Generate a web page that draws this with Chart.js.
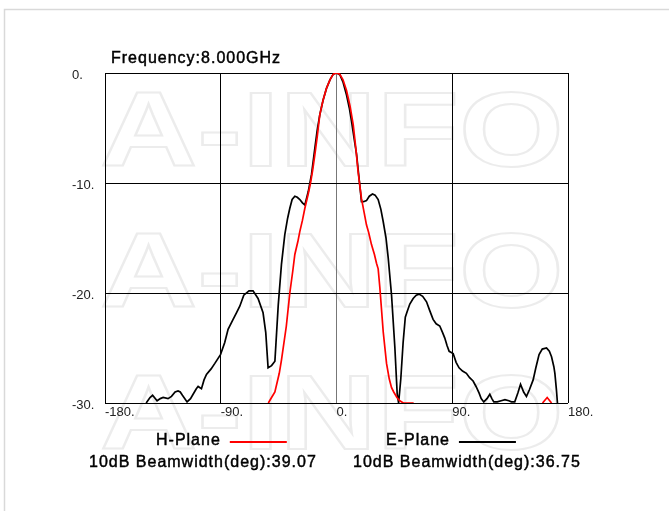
<!DOCTYPE html>
<html lang="en">
<head>
<meta charset="UTF-8">
<title>Frequency 8.000GHz</title>
<script src="https://cdn.jsdelivr.net/npm/chart.js"></script>
<style>
  html, body { margin: 0; padding: 0; background: #fff; }
  #box { width: 669px; height: 511px; position: relative; }
</style>
</head>
<body>
<div id="box"><canvas id="myChart"></canvas></div>

<script>
// titles and legend texts
const titleText = 'Frequency:8.000GHz';
const seriesNames = ['H-Plane', 'E-Plane'];
const beamwidths = ['10dB Beamwidth(deg):39.07', '10dB Beamwidth(deg):36.75'];

// axis ticks
const xTicks = [-180, -90, 0, 90, 180];
const yTicks = [0, -10, -20, -30];

// H-plane (red), null = not drawn
const hAngles = [-53, -50.5, -47.9, -44.5, -42.8, -39, -36.3, -34, -32.4, -30, -28.5, -26.5,
  -24.6, -22, -20.2, -18.5, -16.8, -15, -13, -10.5, -7.8, -5, -2.5, 0, 2.5, 5, 7.8, 10.5,
  13, 15, 16.8, 19.4, 21.5, 23.3, 25, 27.2, 29.5, 31.1, 32.4, 33.7, 35, 36.3, 38.9, 41,
  42.8, 44.5, 47, 49.2, 52, 56, 60, 110, 160.2, 163.8, 167.2];
const hGain = [-30, -29.5, -29.0, -27.3, -26.1, -23.0, -20.0, -18.0, -16.5, -15.3, -14.4, -13.4,
  -12.3, -11.0, -10.0, -8.8, -7.4, -5.8, -3.8, -2.5, -1.4, -0.6, -0.1, 0, -0.1, -0.6, -1.6, -3.0,
  -4.7, -6.8, -9.0, -11.4, -12.7, -13.8, -14.5, -15.6, -16.5, -17.3, -17.8, -19.5, -21.5, -23.5, -26.4, -27.8,
  -28.6, -29.0, -29.5, -29.8, -30, -30, -30, null, -30, -29.5, -30];

// E-plane (black)
const eAngles = [-148, -145, -143, -139.5, -137, -134.8, -131, -128.3, -125.5, -123.2, -121.5, -119.8,
  -116.2, -113.5, -111.5, -109, -107.6, -105, -103, -101.1, -97.5, -94.6, -90.2, -86.9, -84.3, -80.4,
  -77.8, -75.2, -72.1, -68, -64.9, -61, -57.1, -55, -53.2, -50.5, -47.9, -45.3, -42.8, -40.2, -38,
  -36.3, -34.5, -32.4, -30.5, -28.5, -26.5, -24.6, -22, -19.4, -16.8, -15, -13, -10.5, -7.8, -5, -2.5,
  0, 2.6, 5, 7.8, 10, 11.7, 13.5, 15.6, 18.1, 19.4, 21, 23.3, 25.5, 28, 30, 32.4, 34.5, 36.3, 38.5,
  40.2, 42.8, 45.4, 47.2, 48.3, 50, 51.8, 53.5, 54.9, 57, 59.6, 62, 64.2, 67, 70, 72.5, 75.1, 77.5,
  80.3, 82.5, 84.2, 86, 87.6, 90.7, 93, 95.3, 98, 101, 103.5, 106.2, 108.5, 110.9, 112.5, 114.5, 117,
  119.2, 120.8, 122.3, 125, 128, 131, 134, 136, 138.6, 141, 143.1, 145.5, 147.7, 150, 152.9, 155,
  157.5, 160, 163.3, 165.5, 167.2, 169, 169.8, 171, 171.8];
const eGain = [-30, -29.5, -29.3, -29.8, -29.6, -29.5, -29.6, -29.4, -29.0, -28.9, -29.0, -29.3,
  -29.9, -29.6, -29.2, -28.7, -28.5, -28.7, -27.9, -27.4, -26.9, -26.4, -25.6, -24.5, -23.3, -22.4,
  -21.8, -21.2, -20.2, -19.8, -19.8, -20.5, -21.8, -23.6, -26.8, -26.6, -26.2, -21.1, -17.4, -14.7, -13.2,
  -12.3, -11.5, -11.2, -11.3, -11.5, -11.8, -12.0, -10.8, -9.2, -6.8, -5.2, -3.8, -2.5, -1.4, -0.6, -0.1,
  0, -0.15, -0.8, -2.0, -3.2, -4.4, -5.8, -7.4, -10.2, -11.7, -11.7, -11.6, -11.2, -11.0, -11.1, -11.5, -12.4, -13.5, -15.0,
  -16.8, -20.2, -25.0, -29.2, -30, -27.8, -24.5, -22.2, -21.7, -21.0, -20.5, -20.2, -20.1, -20.3, -20.8, -21.6, -22.4, -22.8,
  -23.0, -23.6, -24.1, -24.8, -25.3, -25.5, -26.3, -26.8, -27.1, -27.3, -27.7, -28.0, -28.5, -29.1, -29.6, -29.9, -29.6,
  -29.2, -29.6, -29.9, -29.9, -29.8, -29.7, -29.8, -29.9, -29.9, -29.1, -28.3, -29.0, -29.4, -28.8, -27.9, -26.8,
  -25.6, -25.1, -25.0, -25.3, -25.8, -26.7, -27.3, -28.8, -30];

const lineColors = ['#ff0000', '#000000'];

function toPoints(xs, ys) {
  return xs.map((x, i) => ({ x: x, y: ys[i] }));
}

// text drawn a little heavier, like the original
function heavyText(c, txt, x, y) {
  c.fillText(txt, x, y);
  c.strokeText(txt, x, y);
}

// watermark, outer frame, title and legend rows
const decorations = {
  id: 'decorations',
  beforeDraw(chart) {
    const c = chart.ctx;
    c.save();
    c.fillStyle = '#fff';
    c.fillRect(0, 0, chart.width, chart.height);
    c.strokeStyle = '#d9d9d9';
    c.lineWidth = 1.5;
    c.beginPath();
    c.moveTo(4.5, chart.height);
    c.lineTo(4.5, 9.5);
    c.lineTo(chart.width, 9.5);
    c.stroke();

    // stretched outline watermark
    c.font = 'bold 106px "Liberation Sans", Arial, sans-serif';
    c.textBaseline = 'alphabetic';
    c.textAlign = 'left';
    c.strokeStyle = '#ececec';
    c.lineWidth = 2;
    [166, 307, 449].forEach(y => {
      c.save();
      c.translate(100, y);
      c.scale(1.27, 1);
      c.strokeText('A-INFO', 0, 0);
      c.restore();
    });
    c.restore();
  },
  afterDraw(chart) {
    const c = chart.ctx;
    const ds = chart.data.datasets;
    c.save();
    c.fillStyle = '#000';
    c.strokeStyle = '#000';
    c.lineWidth = 0.45;
    c.font = '16px "Liberation Sans", Arial, sans-serif';
    c.letterSpacing = '1px';
    c.textBaseline = 'middle';
    c.textAlign = 'left';
    heavyText(c, titleText, 111, 59);

    const legendX = [156, 386];
    const beamX = [89, 353];
    ds.forEach((d, i) => {
      c.fillStyle = '#000';
      c.strokeStyle = '#000';
      c.lineWidth = 0.45;
      heavyText(c, d.label, legendX[i], 441);
      heavyText(c, beamwidths[i], beamX[i], 463);
      const w = c.measureText(d.label).width;
      c.strokeStyle = d.borderColor;
      c.lineWidth = 2;
      c.beginPath();
      c.moveTo(legendX[i] + w + 9, 442);
      c.lineTo(legendX[i] + w + 66, 442);
      c.stroke();
    });
    c.restore();
  }
};

const ctx = document.getElementById('myChart');
const chart = new Chart(ctx, {
  type: 'line',
  data: {
    datasets: [
      {
        label: seriesNames[0],
        data: toPoints(hAngles, hGain),
        borderColor: lineColors[0],
        borderWidth: 1.7,
        pointRadius: 0,
        tension: 0,
        spanGaps: false
      },
      {
        label: seriesNames[1],
        data: toPoints(eAngles, eGain),
        borderColor: lineColors[1],
        borderWidth: 1.7,
        pointRadius: 0,
        tension: 0,
        spanGaps: false
      }
    ]
  },
  options: {
    responsive: true,
    maintainAspectRatio: false,
    animation: false,
    layout: { padding: { left: 72, top: 73, right: 101, bottom: 88 } },
    plugins: {
      legend: { display: false },
      tooltip: { enabled: false }
    },
    scales: {
      x: {
        type: 'linear',
        min: -180,
        max: 180,
        afterBuildTicks: s => { s.ticks = xTicks.map(v => ({ value: v })); },
        afterFit: s => { s.height = 20; },
        grid: {
          color: c => (c.tick && c.tick.value === 0) ? '#777' : '#000',
          lineWidth: 1,
          drawTicks: false
        },
        border: { display: false },
        ticks: {
          align: 'start',
          maxRotation: 0,
          minRotation: 0,
          padding: 2,
          color: '#222',
          font: { family: '"Liberation Sans", Arial, sans-serif', size: 13 },
          callback: v => v + '.'
        }
      },
      y: {
        min: -30,
        max: 0,
        afterBuildTicks: s => { s.ticks = yTicks.map(v => ({ value: v })); },
        afterFit: s => { s.width = 33; },
        grid: { color: '#000', lineWidth: 1, drawTicks: false },
        border: { display: false },
        ticks: {
          crossAlign: 'far',
          padding: 0,
          labelOffset: 2,
          color: '#222',
          font: { family: '"Liberation Sans", Arial, sans-serif', size: 13 },
          callback: v => v + '.'
        }
      }
    }
  },
  plugins: [decorations]
});
</script>
</body>
</html>
